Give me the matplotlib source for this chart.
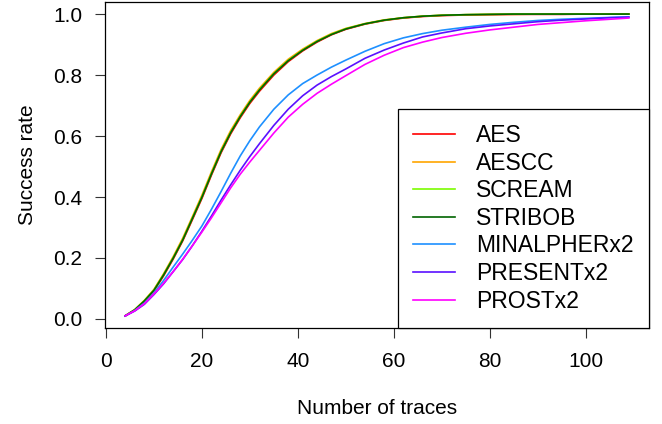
import numpy as np
from matplotlib import pyplot as plt

plt.rcParams['font.family'] = ['Liberation Sans', 'DejaVu Sans']

traces = [4, 6, 8, 10, 12, 14, 16, 18, 20, 22, 24, 26, 28, 30, 32, 35, 38, 41,
          44, 47, 50, 54, 58, 62, 66, 70, 75, 80, 85, 90, 95, 100, 105, 109]

aes = [0.010, 0.029, 0.058, 0.092, 0.141, 0.196, 0.256, 0.325, 0.395, 0.472, 0.545,
       0.607, 0.660, 0.707, 0.747, 0.800, 0.844, 0.879, 0.908, 0.932, 0.950, 0.967,
       0.979, 0.987, 0.992, 0.995, 0.997, 0.998, 0.999, 0.999, 0.999, 1.0, 1.0, 1.0]
aescc = [0.011, 0.031, 0.061, 0.097, 0.148, 0.204, 0.265, 0.335, 0.406, 0.483, 0.556,
         0.618, 0.670, 0.717, 0.757, 0.809, 0.852, 0.885, 0.913, 0.936, 0.953, 0.969,
         0.981, 0.988, 0.993, 0.996, 0.998, 0.999, 0.999, 1.0, 1.0, 1.0, 1.0, 1.0]
scream = [0.010, 0.030, 0.060, 0.095, 0.145, 0.200, 0.260, 0.330, 0.400, 0.477, 0.550,
          0.612, 0.665, 0.712, 0.752, 0.805, 0.848, 0.882, 0.911, 0.934, 0.952, 0.968,
          0.980, 0.988, 0.993, 0.996, 0.998, 0.999, 1.0, 1.0, 1.0, 1.0, 1.0, 1.0]
stribob = [0.010, 0.030, 0.059, 0.094, 0.144, 0.199, 0.259, 0.329, 0.399, 0.476, 0.549,
           0.611, 0.664, 0.711, 0.751, 0.804, 0.847, 0.881, 0.910, 0.933, 0.951, 0.968,
           0.980, 0.988, 0.993, 0.996, 0.998, 0.999, 1.0, 1.0, 1.0, 1.0, 1.0, 1.0]
minalpher = [0.010, 0.028, 0.052, 0.085, 0.126, 0.170, 0.213, 0.258, 0.305, 0.360, 0.418,
             0.478, 0.535, 0.585, 0.630, 0.688, 0.735, 0.772, 0.800, 0.826, 0.849, 0.878,
             0.903, 0.922, 0.936, 0.947, 0.957, 0.966, 0.973, 0.979, 0.983, 0.986, 0.989, 0.991]
present = [0.010, 0.026, 0.048, 0.080, 0.115, 0.155, 0.195, 0.240, 0.288, 0.338, 0.390,
           0.440, 0.488, 0.533, 0.575, 0.635, 0.688, 0.732, 0.767, 0.795, 0.820, 0.855,
           0.882, 0.905, 0.925, 0.938, 0.952, 0.961, 0.968, 0.975, 0.980, 0.984, 0.988, 0.990]
prost = [0.010, 0.027, 0.050, 0.082, 0.117, 0.155, 0.196, 0.240, 0.285, 0.332, 0.381,
         0.430, 0.475, 0.515, 0.553, 0.610, 0.662, 0.704, 0.740, 0.770, 0.798, 0.835,
         0.865, 0.890, 0.908, 0.923, 0.937, 0.948, 0.957, 0.966, 0.972, 0.978, 0.983, 0.987]

names = ['AES', 'AESCC', 'SCREAM', 'STRIBOB', 'MINALPHERx2', 'PRESENTx2', 'PROSTx2']
series = [aes, aescc, scream, stribob, minalpher, present, prost]
colors = ['#ff0000', '#ffa500', '#7cfc00', '#006400', '#1e90ff', '#5a10ff', '#ff00ff']

fig = plt.figure(figsize=(6.62, 4.24), dpi=100)
ax = fig.add_axes([105 / 662, 96 / 424, 544 / 662, 326 / 424])

# orange first so it peeks out above, dark green last on top
order = [1, 0, 2, 3, 4, 5, 6]
handles = {}
for i in order:
    h, = ax.plot(traces, series[i], color=colors[i], lw=1.2, label=names[i])
    handles[i] = h

ax.set_xlim(-0.2, 113.2)
ax.set_ylim(-0.0296, 1.0396)
ax.set_xticks([0, 20, 40, 60, 80, 100])
ax.set_yticks([0.0, 0.2, 0.4, 0.6, 0.8, 1.0])
ax.set_yticklabels(['0.0', '0.2', '0.4', '0.6', '0.8', '1.0'])
ax.tick_params(direction='out', length=7.2, width=0.8, labelsize=15, color='#333333')
ax.tick_params(axis='x', pad=10)
ax.tick_params(axis='y', pad=9)
for s in ax.spines.values():
    s.set_linewidth(0.9)

ax.set_xlabel('Number of traces', fontsize=15, labelpad=20)
ax.set_ylabel('Success rate', fontsize=15, labelpad=12)

leg = ax.legend([handles[i] for i in range(7)], names, loc='lower right',
                borderaxespad=0, fontsize=16.5, frameon=True, fancybox=False,
                edgecolor='black', handlelength=1.83, handletextpad=0.92,
                labelspacing=0.2, borderpad=0.67)
leg.get_frame().set_linewidth(0.9)
leg.get_frame().set_alpha(1)

plt.savefig('out.png', dpi=100)
